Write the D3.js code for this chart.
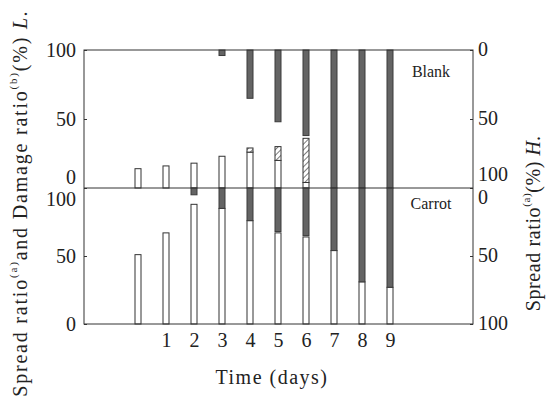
<!DOCTYPE html>
<html>
<head>
<meta charset="utf-8">
<script src="https://cdn.jsdelivr.net/npm/d3@7"></script>
<style>
  html, body { margin: 0; padding: 0; background: #fff; }
  svg { display: block; font-family: "Liberation Serif", "DejaVu Serif", serif; }
</style>
</head>
<body>
<div id="chart"></div>
<script>
// days 0..9, values in %
const days = [0, 1, 2, 3, 4, 5, 6, 7, 8, 9]
const dayLabels = ['', '1', '2', '3', '4', '5', '6', '7', '8', '9']
const tickValues = [0, 50, 100]

// Blank (upper panel)
const blankSpreadL = [14, 16, 18, 23, 26, 20, 4, 0, 0, 0]
const blankDamageL = [0, 0, 0, 0, 3, 10, 32, 0, 0, 0]
const blankSpreadH = [0, 0, 0, 4, 35, 52, 62, 100, 100, 100]

// Carrot (lower panel)
const carrotSpreadL = [51, 67, 88, 85, 76, 67, 64, 54, 31, 27]
const carrotDamageL = [0, 0, 0, 0, 0, 0, 0, 0, 0, 0]
const carrotSpreadH = [0, 0, 5, 15, 24, 32, 35, 46, 69, 73]

const W = 550, H = 412
const frameL = 84, frameR = 473, frameT = 50, frameM = 188, frameB = 324
const barW = 6
const ink = '#333'

const svg = d3.select('#chart').append('svg')
  .attr('width', W).attr('height', H)

const defs = svg.append('defs')
const hatch = defs.append('pattern').attr('id', 'hatch')
  .attr('patternUnits', 'userSpaceOnUse').attr('width', 4).attr('height', 4)
  .attr('patternTransform', 'rotate(45)')
hatch.append('rect').attr('width', 4).attr('height', 4).attr('fill', '#fff')
hatch.append('line').attr('x1', 0).attr('y1', 0).attr('x2', 0).attr('y2', 4)
  .attr('stroke', '#444').attr('stroke-width', 1.4)

const x = d3.scaleLinear().domain([0, 9]).range([138, 390])

const panels = [
  { name: 'Blank', spread: blankSpreadL, damage: blankDamageL, h: blankSpreadH,
    yL: d3.scaleLinear().domain([0, 100]).range([frameM, frameT]),
    yH: d3.scaleLinear().domain([0, 100]).range([frameT, frameM]),
    labelY: 77 },
  { name: 'Carrot', spread: carrotSpreadL, damage: carrotDamageL, h: carrotSpreadH,
    yL: d3.scaleLinear().domain([0, 100]).range([frameB, frameM]),
    yH: d3.scaleLinear().domain([0, 100]).range([frameM, frameB]),
    labelY: 209 }
]

panels.forEach((p, pi) => {
  const g = svg.append('g')

  // white bars: L. spread ratio, from the bottom
  g.selectAll('rect.spread').data(days.filter(d => p.spread[d] > 0)).join('rect')
    .attr('x', d => x(d) - barW / 2).attr('width', barW)
    .attr('y', d => p.yL(p.spread[d]))
    .attr('height', d => p.yL(0) - p.yL(p.spread[d]))
    .attr('fill', '#fff').attr('stroke', ink).attr('stroke-width', 1)

  // hatched bars: damage ratio, stacked on the spread bars
  g.selectAll('rect.damage').data(days.filter(d => p.damage[d] > 0)).join('rect')
    .attr('x', d => x(d) - barW / 2).attr('width', barW)
    .attr('y', d => p.yL(p.spread[d] + p.damage[d]))
    .attr('height', d => p.yL(p.spread[d]) - p.yL(p.spread[d] + p.damage[d]))
    .attr('fill', 'url(#hatch)').attr('stroke', ink).attr('stroke-width', 1)

  // dark bars: H. spread ratio, hanging from the top
  g.selectAll('rect.h').data(days.filter(d => p.h[d] > 0)).join('rect')
    .attr('x', d => x(d) - barW / 2).attr('width', barW)
    .attr('y', p.yH(0))
    .attr('height', d => p.yH(p.h[d]) - p.yH(0))
    .attr('fill', '#646464').attr('stroke', '#3a3a3a').attr('stroke-width', 1)

  // left axis
  const axL = svg.append('g').attr('transform', `translate(${frameL},0)`)
    .call(d3.axisLeft(p.yL).tickValues(tickValues).tickSize(-3).tickPadding(8))
  axL.select('.domain').remove()
  axL.selectAll('line').attr('stroke', ink)
  axL.selectAll('text').attr('font-size', 20).attr('font-family', 'Liberation Serif').attr('fill', '#222')
    .attr('dy', d => {
      if (pi === 0 && d === 0) return '-0.22em'
      if (pi === 1 && d === 100) return '0.86em'
      return '0.32em'
    })

  // right axis (inverted)
  const axR = svg.append('g').attr('transform', `translate(${frameR},0)`)
    .call(d3.axisRight(p.yH).tickValues(tickValues).tickSize(-3).tickPadding(5))
  axR.select('.domain').remove()
  axR.selectAll('line').attr('stroke', ink)
  axR.selectAll('text').attr('font-size', 20).attr('font-family', 'Liberation Serif').attr('fill', '#222')
    .attr('dy', d => {
      if (pi === 0 && d === 100) return '-0.4em'
      if (pi === 1 && d === 0) return '0.75em'
      return '0.25em'
    })

  svg.append('text').attr('x', 431).attr('y', p.labelY)
    .attr('text-anchor', 'middle').attr('font-size', 16).attr('fill', '#222')
    .text(p.name)
})

// frame and divider
svg.append('rect').attr('x', frameL).attr('y', frameT)
  .attr('width', frameR - frameL).attr('height', frameB - frameT)
  .attr('fill', 'none').attr('stroke', ink).attr('stroke-width', 1)
svg.append('line').attr('x1', frameL).attr('x2', frameR).attr('y1', frameM).attr('y2', frameM)
  .attr('stroke', ink).attr('stroke-width', 1)

// x labels (no tick marks)
const axX = svg.append('g').attr('transform', `translate(0,${frameB})`)
  .call(d3.axisBottom(x).tickValues(days).tickFormat(d => dayLabels[d]).tickSize(0).tickPadding(9))
axX.select('.domain').remove()
axX.selectAll('text').attr('font-size', 20).attr('font-family', 'Liberation Serif').attr('fill', '#222')

svg.append('text').attr('x', 272).attr('y', 384)
  .attr('text-anchor', 'middle').attr('font-size', 20).attr('fill', '#222')
  .attr('letter-spacing', 1.5)
  .text('Time (days)')

// left title
const lt = svg.append('text')
  .attr('transform', 'translate(27,203) rotate(-90)')
  .attr('text-anchor', 'middle').attr('font-size', 20).attr('fill', '#222')
  .attr('letter-spacing', 1.8)
lt.append('tspan').text('Spread ratio')
lt.append('tspan').attr('font-size', 11).attr('dy', -10).text('(a)')
lt.append('tspan').attr('dy', 10).text('and Damage ratio')
lt.append('tspan').attr('font-size', 11).attr('dy', -10).text('(b)')
lt.append('tspan').attr('dy', 10).text('(%) ')
lt.append('tspan').attr('font-style', 'italic').text('L.')

// right title
const rt = svg.append('text')
  .attr('transform', 'translate(540,223) rotate(-90)')
  .attr('text-anchor', 'middle').attr('font-size', 20).attr('fill', '#222')
  .attr('letter-spacing', 0.6)
rt.append('tspan').text('Spread ratio')
rt.append('tspan').attr('font-size', 11).attr('dy', -10).text('(a)')
rt.append('tspan').attr('dy', 10).text('(%) ')
rt.append('tspan').attr('font-style', 'italic').text('H.')
</script>
</body>
</html>
